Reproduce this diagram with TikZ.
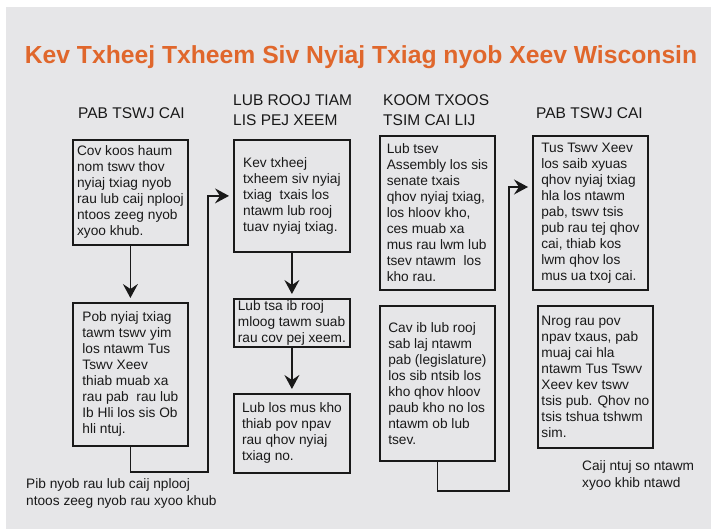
\documentclass[tikz,border=0pt]{standalone}
\usepackage{fontspec}
\setmainfont{Liberation Sans}
\usetikzlibrary{arrows.meta}
\definecolor{bggray}{RGB}{230,230,232}
\definecolor{titleorange}{RGB}{224,103,44}
\definecolor{inkdark}{RGB}{25,25,25}
\begin{document}
\begin{tikzpicture}[x=1pt,y=-1pt,
    stepbox/.style={draw=inkdark,line width=1.8pt,anchor=north west,align=left,inner sep=0pt,text=inkdark,font=\fontsize{13.7}{16}\selectfont},
    head/.style={anchor=west,align=left,inner sep=0pt,text=inkdark,font=\fontsize{15.5}{20}\selectfont},
    note/.style={anchor=west,align=left,inner sep=0pt,text=inkdark,font=\fontsize{13.7}{17}\selectfont},
    flow/.style={draw=inkdark,line width=1.5pt,-{Stealth[length=14pt,width=15pt,inset=5pt]},shorten >=4pt}]
  \useasboundingbox (0,0) rectangle (711,529);
  \fill[bggray] (6,7) rectangle (711,529);
  \node[font=\bfseries\fontsize{24.7}{28}\selectfont,text=titleorange,anchor=base] (title) at (361,64) {Kev Txheej Txheem Siv Nyiaj Txiag nyob Xeev Wisconsin};
  % column headers
  \node[head] (h1) at (78,113) {PAB TSWJ CAI};
  \node[head] (h2) at (233,110) {LUB ROOJ TIAM\\LIS PEJ XEEM};
  \node[head] (h3) at (383,110) {KOOM TXOOS\\TSIM CAI LIJ};
  \node[head] (h4) at (536,113) {PAB TSWJ CAI};
  % boxes
  \node[stepbox,minimum width=115pt,minimum height=105pt] (b1) at (72,139) {Cov koos haum\\nom tswv thov\\nyiaj txiag nyob\\rau lub caij nplooj\\ntoos zeeg nyob\\xyoo khub.};
  \node[stepbox,minimum width=115pt,minimum height=143pt] (b3) at (72,302) {Pob nyiaj txiag\\tawm tswv yim\\los ntawm Tus\\Tswv Xeev\\thiab muab xa\\rau pab\ \ rau lub\\Ib Hli los sis Ob\\hli ntuj.};
  \node[stepbox,minimum width=116pt,minimum height=112pt] (b2) at (233,139) {Kev txheej\\txheem siv nyiaj\\txiag\ \ txais los\\ntawm lub rooj\\tuav nyiaj txiag.};
  \node[stepbox,minimum width=116pt,minimum height=48pt] (b4) at (233,298) {Lub tsa ib rooj\\mloog tawm suab\\rau cov pej xeem.};
  \node[stepbox,minimum width=116pt,minimum height=79pt] (b5) at (233,393) {Lub los mus kho\\thiab pov npav\\rau qhov nyiaj\\txiag no.};
  \node[stepbox,minimum width=115pt,minimum height=154pt] (b6) at (379,135) {Lub tsev\\Assembly los sis\\senate txais\\qhov nyiaj txiag,\\los hloov kho,\\ces muab xa\\mus rau lwm lub\\tsev ntawm\ \ los\\kho rau.};
  \node[stepbox,minimum width=115pt,minimum height=155pt] (b8) at (379,305) {Cav ib lub rooj\\sab laj ntawm\\pab (legislature)\\los sib ntsib los\\kho qhov hloov\\paub kho no los\\ntawm ob lub\\tsev.};
  \node[stepbox,minimum width=115pt,minimum height=154pt] (b7) at (532,135) {Tus Tswv Xeev\\los saib xyuas\\qhov nyiaj txiag\\hla los ntawm\\pab, tswv tsis\\pub rau tej qhov\\cai, thiab kos\\lwm qhov los\\mus ua txoj cai.};
  \node[stepbox,minimum width=115pt,minimum height=142pt] (b9) at (537,305) {Nrog rau pov\\npav txaus, pab\\muaj cai hla\\ntawm Tus Tswv\\Xeev kev tswv\\tsis pub. Qhov no\\tsis tshua tshwm\\sim.};
  % notes
  \node[note] (n1) at (26,493.5) {Pib nyob rau lub caij nplooj\\ntoos zeeg nyob rau xyoo khub};
  \node[note] (n2) at (582,475) {Caij ntuj so ntawm\\xyoo khib ntawd};
  % arrows
  \draw[flow] (b1.south) -- (b3.north);
  \draw[flow] (b2.south) -- (b4.north);
  \draw[flow] (b4.south) -- (b5.north);
  \coordinate (loopA) at (208,472);
  \draw[flow] (b3.south) |- (loopA) |- (b2.west);
  \coordinate (loopB) at (509,491);
  \coordinate (turnB) at (509,187);
  \draw[flow] (b8.south) |- (loopB) -- (turnB) -- (turnB -| b7.west);
\end{tikzpicture}
\end{document}
